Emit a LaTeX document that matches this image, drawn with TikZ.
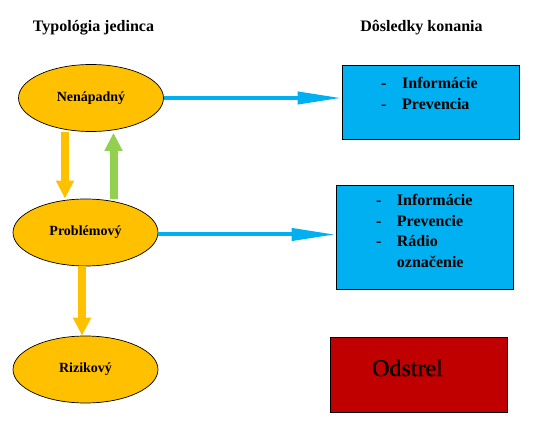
\documentclass[tikz,border=0pt]{standalone}
\usepackage{fontspec}
\setmainfont{Liberation Serif}
\newfontfamily\semib[FakeBold=1.2]{Liberation Serif}
\usetikzlibrary{shapes.geometric,arrows.meta,calc}
\definecolor{org}{HTML}{FFC000}
\definecolor{blu}{HTML}{00B0F0}
\definecolor{grn}{HTML}{92D050}
\definecolor{rd}{HTML}{C00000}
\begin{document}
\begin{tikzpicture}[x=1pt,y=-1pt,
  ell/.style={ellipse,draw=black,line width=0.7pt,fill=org,minimum width=145pt,minimum height=67pt,inner sep=0pt,font=\fontsize{14}{16}\selectfont\bfseries},
  box/.style={rectangle,draw=black,line width=0.9pt,minimum width=177pt,inner sep=0pt},
  ttl/.style={anchor=base,inner sep=0pt,font=\fontsize{16}{18}\selectfont\bfseries},
  btxt/.style={anchor=base west,inner sep=0pt},
  barr/.style={draw=blu,line width=4pt,-{Triangle[length=44pt,width=12pt]}},
  oarr/.style={draw=org,line width=8pt,-{Triangle[length=18pt,width=17pt]}},
  garr/.style={draw=grn,line width=8pt,-{Triangle[length=18pt,width=17pt]}}]
\useasboundingbox (0,0) rectangle (540,443);
\node[ttl] (t1) at (93.5,31.5) {Typológia jedinca};
\node[ttl] (t2) at (421.5,31.5) {Dôsledky konania};
\node[ell] (n1) at (91,98) {Nenápadný};
\node[ell] (n2) at (85.5,232.5) {Problémový};
\node[ell] (n3) at (85.5,369.5) {Rizikový};
\node[box,fill=blu,minimum height=74pt] (b1) at (430.5,102) {};
\node[box,fill=blu,minimum height=104pt] (b2) at (424.5,237) {};
\node[box,fill=rd,minimum height=75pt] (b3) at (418.5,374.5) {};
\node[btxt] (l1) at (381,89) {\fontsize{16}{21}\selectfont\bfseries
  \begin{tabular}[t]{@{}p{21pt}@{}l@{}}-&Informácie\\-&Prevencia\end{tabular}};
\node[btxt] (l2) at (376,205.7) {\fontsize{16}{20.6}\selectfont\bfseries
  \begin{tabular}[t]{@{}p{20.7pt}@{}l@{}}-&Informácie\\-&Prevencie\\-&Rádio\\&označenie\end{tabular}};
\node[anchor=base,inner sep=0pt,font=\semib\fontsize{24}{28}\selectfont] (l3) at (407.5,376) {Odstrel};
\draw[barr] (n1.east) -- (n1.east -| b1.west);
\draw[barr] ($(n2.east)+(0,2)$) -- ($(n2.east -| b2.west)+(0,2)$);
\draw[oarr] ($(n1.south)+(-26,0)$) -- ($(n2.north)+(-20.5,0)$);
\draw[garr] ($(n2.north)+(28,0)$) -- ($(n1.south)+(22.5,1)$);
\draw[oarr] ($(n2.south)+(-3.5,0)$) -- ($(n3.north)+(-3.5,0)$);
\end{tikzpicture}
\end{document}
